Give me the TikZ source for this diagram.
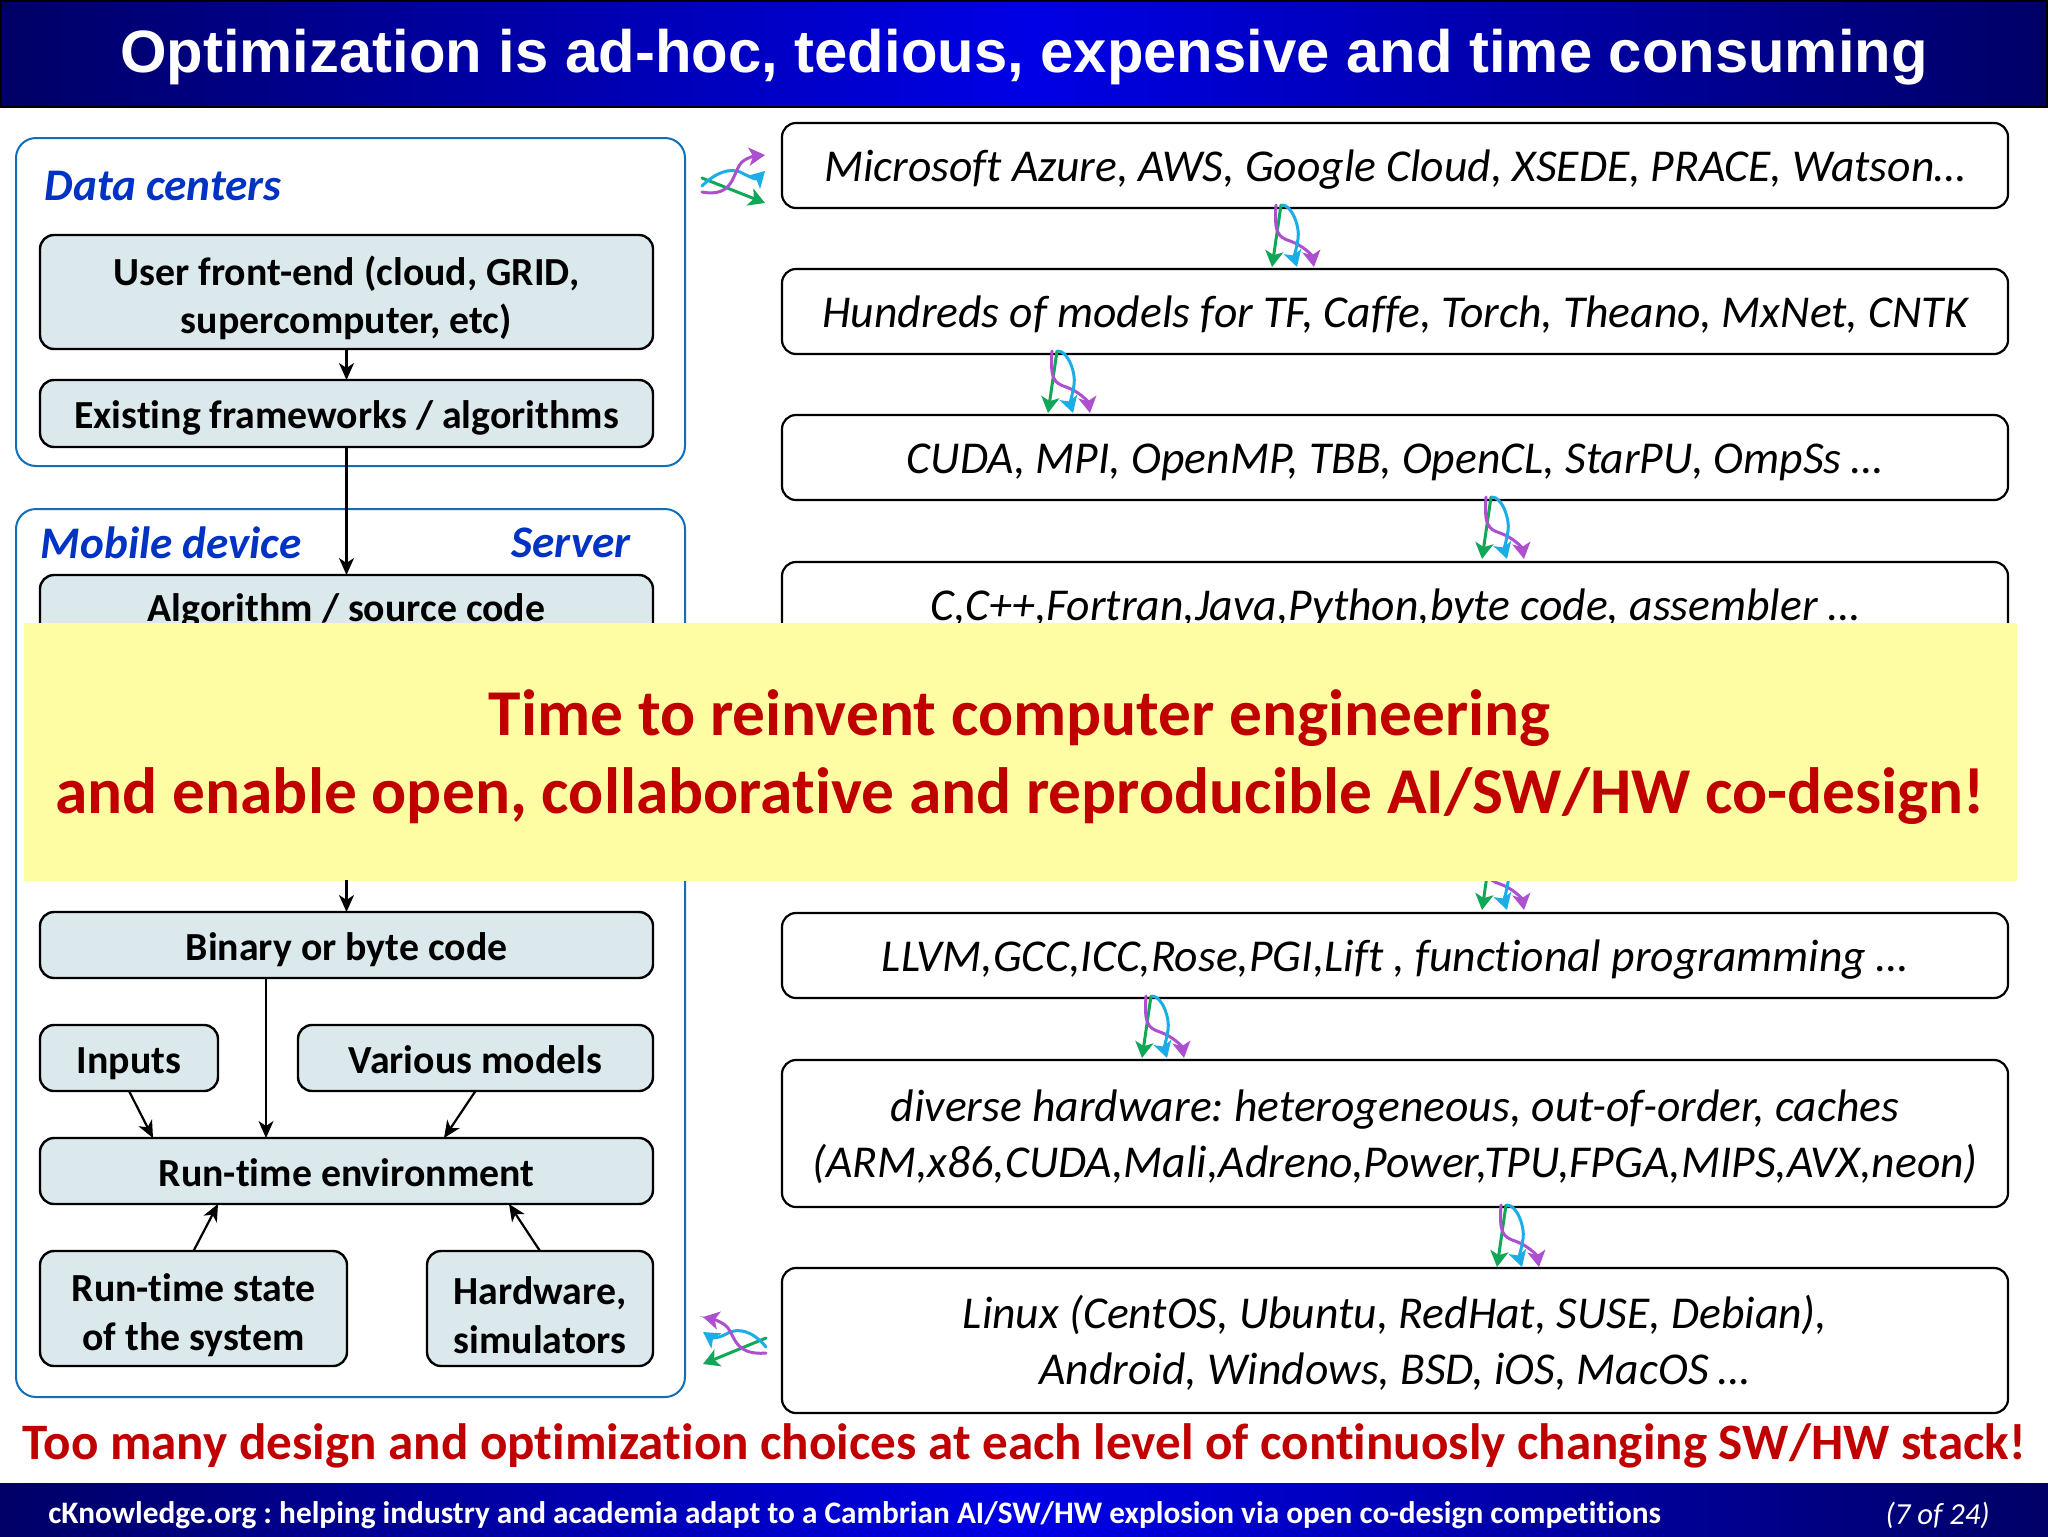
\documentclass[tikz,border=0pt]{standalone}
\usepackage{fontspec}
\setmainfont[Ligatures=NoCommon]{Carlito}
\newfontfamily\titlefont{Liberation Sans}
\usetikzlibrary{arrows.meta,calc}
\frenchspacing
\definecolor{navy}{HTML}{000066}
\definecolor{brightblue}{HTML}{0000E6}
\definecolor{boxfill}{HTML}{DBE9ED}
\definecolor{outerblue}{HTML}{0F6FB8}
\definecolor{headblue}{HTML}{0033C4}
\definecolor{alertred}{HTML}{C00000}
\definecolor{bannerfill}{HTML}{FFFDA3}
\definecolor{tripurple}{HTML}{AD50CF}
\definecolor{triblue}{HTML}{1BADE6}
\definecolor{trigreen}{HTML}{10A858}
\tikzset{
  pxbox/.style={anchor=north west,inner sep=0pt,outer sep=0pt,align=center},
  outerbox/.style={pxbox,draw=outerblue,line width=1pt,rounded corners=10pt,fill=white},
  lbox/.style={pxbox,draw=black,line width=1.2pt,rounded corners=7pt,fill=boxfill,font=\fontsize{19.9}{24.3}\selectfont\bfseries},
  lone/.style={lbox,text height=15pt,text depth=0pt},
  ltwo/.style={lbox,text height=45pt},
  rbox/.style={pxbox,draw=black,line width=1.1pt,rounded corners=7pt,fill=white,font=\fontsize{22.8}{27.9}\selectfont\itshape},
  rone/.style={rbox,text height=16pt,text depth=0.5pt},
  rtwo/.style={rbox,text height=46.7pt},
  head/.style={inner sep=0pt,text=headblue,font=\fontsize{22.6}{27}\selectfont\bfseries\itshape},
  link/.style={draw=black,line width=1.1pt,-{Stealth[length=8.5pt,width=7.5pt,inset=2.5pt]}},
  tri/.style={line width=1.5pt,line cap=round,-{Stealth[length=8pt,width=9pt,inset=2pt]}},
  band/.style={pxbox,left color=navy,right color=navy,middle color=brightblue,shading angle=90},
  trivert/.pic={
    \draw[tri,trigreen] (1,0) -- (-8,62);
    \draw[tri,tripurple] (-4,0) .. controls (-6,28) and (-2,32) .. (10,36) .. controls (22,40) and (32,50) .. (34,62);
    \draw[tri,triblue] (2,0) .. controls (12,0) and (20,22) .. (18,34) .. controls (16,46) and (14,52) .. (17,62);
  },
  trihorz/.pic={
    \draw[tri,trigreen] (702,178) -- (765,203);
    \draw[tri,triblue] (702,186) .. controls (716,172) and (730,168) .. (740,172) .. controls (748,176) and (756,180) .. (765,171);
    \draw[tri,tripurple] (702,192) .. controls (735,198) and (732,172) .. (742,162) .. controls (748,157) and (755,156) .. (765,155);
  },
  trihorzb/.pic={
    \draw[tri,trigreen] (766,1338) -- (703,1364);
    \draw[tri,triblue] (766,1347) .. controls (752,1330) and (738,1328) .. (728,1333) .. controls (720,1338) and (712,1338) .. (703,1332);
    \draw[tri,tripurple] (766,1353) .. controls (732,1356) and (735,1332) .. (725,1325) .. controls (718,1320) and (712,1319) .. (703,1317);
  }
}
\begin{document}
\begin{tikzpicture}[x=0.5pt,y=-0.5pt]
\useasboundingbox (0,0) rectangle (2048,1536);
\fill[white] (0,0) rectangle (2048,1536);

% title and footer bands
\node[band,draw=black,line width=1pt,minimum width=1023pt,minimum height=53pt] (title) at (1,1) {};
\node[inner sep=0pt,text=white,font=\fontsize{29.9}{36}\selectfont\titlefont\bfseries] (titletext) at ($(title.center)+(0,3)$) {Optimization is ad-hoc, tedious, expensive and time consuming};
\node[band,minimum width=1024pt,minimum height=26.5pt] (foot) at (0,1483) {};
\node[anchor=west,inner sep=0pt,text=white,font=\fontsize{15.65}{18}\selectfont\bfseries] (foottext) at (48,1515) {cKnowledge.org : helping industry and academia adapt to a Cambrian AI/SW/HW explosion via open co-design competitions};
\node[anchor=east,inner sep=0pt,text=white,font=\fontsize{15.3}{18}\selectfont\itshape] (pageno) at (1990,1515) {(7 of 24)};

% left column
\node[outerbox,minimum width=334.5pt,minimum height=164pt] (dc) at (16,138) {};
\node[outerbox,minimum width=334.5pt,minimum height=444pt] (mob) at (16,509) {};
\node[head] (dchead) at (163,186) {Data centers};
\node[head] (mobhead) at (171,543) {Mobile device};
\node[head] (srvhead) at (571,543) {Server};
\node[ltwo,minimum width=306.5pt,minimum height=57pt] (front) at (40,235) {User front-end (cloud, GRID,\\supercomputer, etc)};
\node[lone,minimum width=306.5pt,minimum height=33.5pt] (exist) at (40,380) {Existing frameworks / algorithms};
\node[lone,text height=14pt,text depth=1pt,minimum width=306.5pt,minimum height=33pt] (algo) at (40,575) {Algorithm / source code};
\node[lone,minimum width=306.5pt,minimum height=33pt] (bin) at (40,912) {Binary or byte code};
\node[lone,minimum width=89pt,minimum height=33pt] (inputs) at (40,1025) {Inputs};
\node[lone,minimum width=177.5pt,minimum height=33pt] (models) at (298,1025) {Various models};
\node[lone,minimum width=306.5pt,minimum height=33pt] (env) at (40,1138) {Run-time environment};
\node[ltwo,minimum width=153.5pt,minimum height=57.5pt] (state) at (40,1251) {Run-time state\\of the system};
\node[ltwo,minimum width=113pt,minimum height=57.5pt] (hw) at (427,1251) {Hardware,\\simulators};

\draw[link] (front) -- (exist);
\draw[link] (exist) -- (algo);
\draw[link] ($(bin.south west)+(226,0)$) -- ($(env.north west)+(226,0)$);
\draw[link] (inputs.south) -- ($(env.north west)+(113,0)$);
\draw[link] (models.south) -- ($(env.north west)+(404,0)$);
\draw[link] (state.north) -- ($(env.south west)+(178,0)$);
\draw[link] (hw.north) -- ($(env.south west)+(469,0)$);

% right column
\node[rone,minimum width=613pt,minimum height=42.5pt] (r1) at (782,123) {Microsoft Azure, AWS, Google Cloud, XSEDE, PRACE, Watson\ldots};
\node[rone,minimum width=613pt,minimum height=42.5pt] (r2) at (782,269) {Hundreds of models for TF, Caffe, Torch, Theano, MxNet, CNTK};
\node[rone,minimum width=613pt,minimum height=42.5pt] (r3) at (782,415) {CUDA, MPI, OpenMP, TBB, OpenCL, StarPU, OmpSs \ldots};
\node[rone,minimum width=613pt,minimum height=42.5pt] (r4) at (782,562) {C,C++,Fortran,Java,Python,byte code, assembler \ldots};
\node[rone,minimum width=613pt,minimum height=42.5pt] (r5) at (782,913) {LLVM,GCC,ICC,Rose,PGI,Lift , functional programming \ldots};
\node[rtwo,minimum width=613pt,minimum height=73.5pt] (r6) at (782,1060) {diverse hardware: heterogeneous, out-of-order, caches\\(ARM,x86,CUDA,Mali,Adreno,Power,TPU,FPGA,MIPS,AVX,neon)};
\node[rtwo,minimum width=613pt,minimum height=72.5pt] (r7) at (782,1268) {Linux (CentOS, Ubuntu, RedHat, SUSE, Debian),\\Android, Windows, BSD, iOS, MacOS \ldots};

\pic at (0,0) {trihorz};
\pic at (0,0) {trihorzb};
\pic at (1280,205) {trivert};
\pic at (1056,351) {trivert};
\pic at (1490,497) {trivert};
\pic at (1490,848) {trivert};
\pic at (1150,996) {trivert};
\pic at (1505,1205) {trivert};

% banner
\node[pxbox,fill=bannerfill,minimum width=996.5pt,minimum height=129pt,text=alertred,font=\fontsize{32.7}{39}\selectfont\bfseries,text height=67.3pt] (banner) at (23.5,623) {Time to reinvent computer engineering\\and enable open, collaborative and reproducible AI/SW/HW co-design!};
\coordinate (under) at ($(bin.north)+(0,-32)$);
\draw[link] (under) -- (bin.north);

\node[inner sep=0pt,text=alertred,font=\fontsize{25.55}{30}\selectfont\bfseries] (warn) at (1024,1446) {Too many design and optimization choices at each level of continuosly changing SW/HW stack!};
\end{tikzpicture}
\end{document}
